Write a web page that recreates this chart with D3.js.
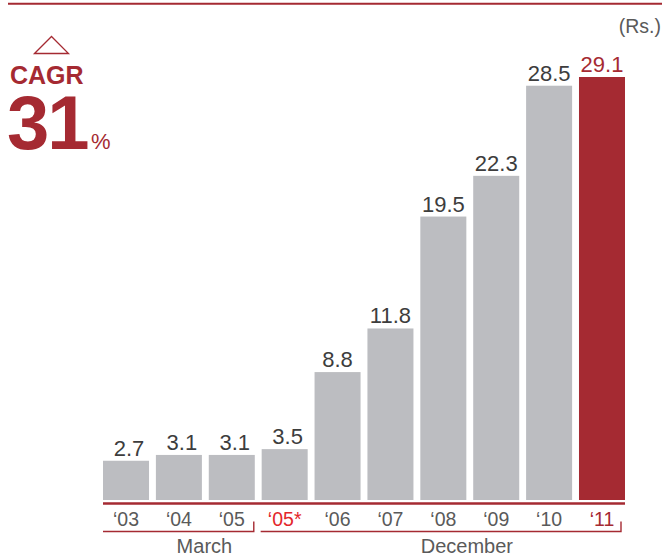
<!DOCTYPE html>
<html>
<head>
<meta charset="utf-8">
<script src="https://cdn.jsdelivr.net/npm/d3@7"></script>
<style>
  html, body { margin: 0; padding: 0; background: #fff; }
  svg { display: block; font-family: "Liberation Sans", Arial, sans-serif; }
</style>
</head>
<body>
<svg id="chart" width="664" height="558"></svg>
<script>
// Earnings per share by period (Rs.)
const years  = ["‘03", "‘04", "‘05", "‘05*", "‘06", "‘07", "‘08", "‘09", "‘10", "‘11"];
const values = [2.7, 3.1, 3.1, 3.5, 8.8, 11.8, 19.5, 22.3, 28.5, 29.1];
const groups = [
  { name: "March",    from: 0, to: 2 },
  { name: "December", from: 3, to: 9 }
];
const cagrLabel = "CAGR";
const cagrValue = "31";

const RED = "#a52a32", BRIGHT_RED = "#e3262b", GRAY_BAR = "#bcbdc1",
      TEXT = "#3d3d3d", AXIS_TEXT = "#5a5a5a";

const svg = d3.select("#chart");

const x = d3.scaleBand().domain(years).range([103, 625]).paddingInner(0.13).paddingOuter(0);
const y = d3.scaleLinear().domain([0, 29.1]).range([500, 77]);

// top rule and unit
svg.append("line").attr("x1", 8).attr("x2", 662).attr("y1", 3.7).attr("y2", 3.7)
  .attr("stroke", RED).attr("stroke-width", 2);
svg.append("text").attr("x", 661).attr("y", 33).attr("text-anchor", "end")
  .attr("font-size", 19.5).attr("fill", AXIS_TEXT).text("(Rs.)");

// bars
const last = years.length - 1;
svg.append("g").selectAll("rect").data(values).join("rect")
  .attr("x", (d, i) => x(years[i]))
  .attr("width", x.bandwidth())
  .attr("y", d => y(d))
  .attr("height", d => y(0) - y(d))
  .attr("fill", (d, i) => i === last ? RED : GRAY_BAR);

// value labels
svg.append("g").selectAll("text").data(values).join("text")
  .attr("x", (d, i) => x(years[i]) + x.bandwidth() / 2 + (d < 5 ? 3 : 0))
  .attr("y", d => y(d) - 5)
  .attr("text-anchor", "middle")
  .attr("font-size", 22)
  .attr("fill", (d, i) => i === last ? RED : TEXT)
  .text(d => d.toFixed(1));

// baseline
svg.append("line").attr("x1", 103).attr("x2", 625).attr("y1", 503.5).attr("y2", 503.5)
  .attr("stroke", RED).attr("stroke-width", 2.6);

// x axis labels
const axis = d3.axisBottom(x).tickSize(0).tickPadding(0);
const ax = svg.append("g").attr("transform", "translate(0,507)").call(axis);
ax.select(".domain").remove();
ax.selectAll("text")
  .attr("dy", "0").attr("y", 19)
  .attr("font-size", 19.5)
  .attr("font-family", "Liberation Sans, Arial, sans-serif")
  .attr("fill", (d, i) => i === last ? RED : (d === "‘05*" ? BRIGHT_RED : AXIS_TEXT));

// period brackets, open on the left, with a short riser at the right end
const bracketGap = 4, labelShift = 26;
groups.forEach((g, k) => {
  const a = x(years[g.from]);
  const b = k === groups.length - 1
    ? x(years[g.to]) + x.bandwidth() - 4
    : x(years[g.to]) + x.bandwidth() - 1;
  const a2 = k === 0 ? a : a - bracketGap + 3;
  svg.append("path")
    .attr("d", `M${a2},531.5H${b}V521.5`)
    .attr("fill", "none").attr("stroke", RED).attr("stroke-width", 1.4);
  svg.append("text").attr("x", (a2 + b) / 2 + labelShift).attr("y", 553)
    .attr("text-anchor", "middle").attr("font-size", 20).attr("fill", AXIS_TEXT)
    .text(g.name);
});

// CAGR badge
svg.append("path").attr("d", "M34.5,53.5L51.5,36.5L68.5,53.5Z")
  .attr("fill", "#fff").attr("stroke", RED).attr("stroke-width", 1.3);
svg.append("text").attr("x", 10).attr("y", 83.5).attr("font-size", 25)
  .attr("font-weight", "bold").attr("fill", RED).text(cagrLabel);
svg.append("text").attr("x", 7).attr("y", 149).attr("font-size", 76)
  .attr("font-weight", "bold").attr("fill", RED).attr("letter-spacing", -2).text(cagrValue);
svg.append("text").attr("x", 91).attr("y", 149).attr("font-size", 22)
  .attr("fill", RED).text("%");
</script>
</body>
</html>
